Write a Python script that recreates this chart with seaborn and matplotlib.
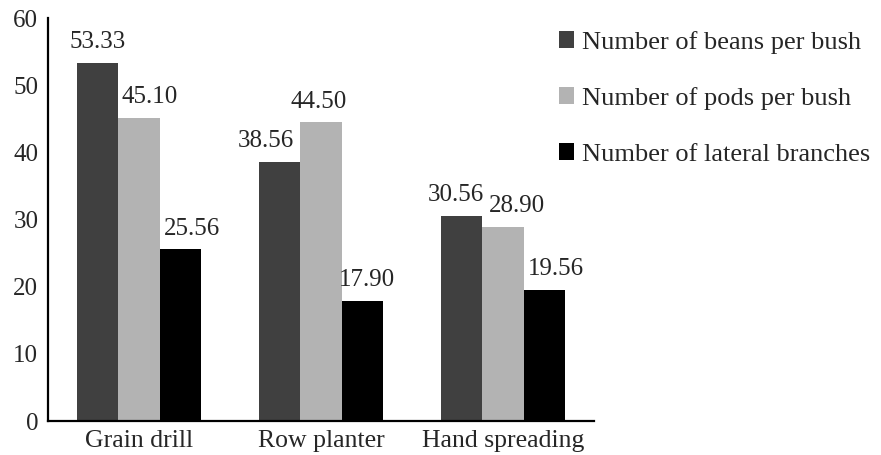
import matplotlib
matplotlib.use("Agg")
import matplotlib.pyplot as plt
import seaborn as sns
import pandas as pd

methods = ["Grain drill", "Row planter", "Hand spreading"]
series = ["Number of beans per bush", "Number of pods per bush", "Number of lateral branches"]
beans = [53.33, 38.56, 30.56]
pods = [45.10, 44.50, 28.90]
branches = [25.56, 17.90, 19.56]
colors = ["#404040", "#b3b3b3", "#000000"]
yticks = [0, 10, 20, 30, 40, 50, 60]

# horizontal nudges (points) for the value labels, so neighbours don't collide
label_nudge = [
    [0, -10, -4],
    [8, -1.5, 10],
    [8.5, 3.5, 8.5],
]

rows = []
for name, vals in zip(series, [beans, pods, branches]):
    for m, v in zip(methods, vals):
        rows.append({"method": m, "series": name, "value": v})
df = pd.DataFrame(rows)

sns.set_style("white")
plt.rcParams["font.family"] = ["Liberation Serif", "DejaVu Serif"]

fig = plt.figure(figsize=(8.81, 4.55), dpi=100)
ax = fig.add_axes([48 / 881, 34 / 455, (594 - 48) / 881, (421 - 18) / 455])

sns.barplot(data=df, x="method", y="value", hue="series", hue_order=series,
            order=methods, palette=colors, width=0.68, gap=0, saturation=1,
            linewidth=0, errorbar=None, ax=ax)

for container, nudges in zip(ax.containers, label_nudge):
    for bar, val, dx in zip(container, container.datavalues, nudges):
        ax.annotate(f"{val:.2f}", (bar.get_x() + bar.get_width() / 2, val),
                    xytext=(dx, 10.5), textcoords="offset points",
                    ha="center", va="baseline", fontsize=18)

ax.set_xlim(-0.5, 2.5)
ax.set_ylim(0, 60)
ax.set_yticks(yticks)
ax.set_yticklabels([str(t) for t in yticks])
ax.set_xlabel("")
ax.set_ylabel("")

for s in ["top", "right"]:
    ax.spines[s].set_visible(False)
for s in ["left", "bottom"]:
    ax.spines[s].set_color("black")
    ax.spines[s].set_linewidth(1.6)

ax.tick_params(axis="y", direction="in", length=8, width=1.6, labelsize=18, pad=7)
ax.tick_params(axis="x", which="major", length=0, labelsize=18.5, pad=6.5)
ax.set_xticks([0.5, 1.5, 2.5], minor=True)
ax.tick_params(axis="x", which="minor", direction="in", length=8, width=1.6)

handles, labels = ax.get_legend_handles_labels()
ax.legend(handles, labels, loc="upper left", bbox_to_anchor=(548 / 881, 0.955),
          bbox_transform=fig.transFigure, frameon=False, fontsize=19,
          handlelength=0.6, handleheight=0.6, handletextpad=0.3,
          labelspacing=1.25, borderaxespad=0)

fig.savefig("out.png", dpi=100)
